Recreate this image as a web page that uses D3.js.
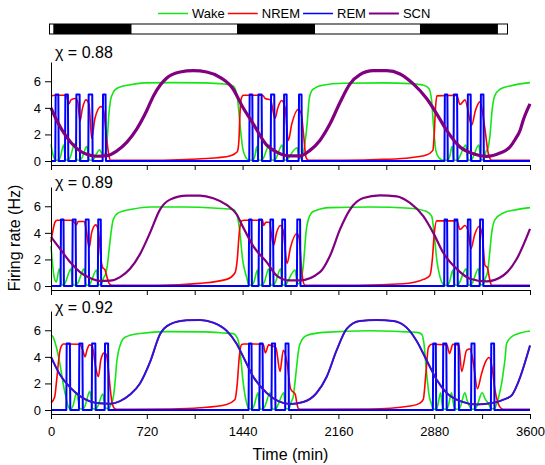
<!DOCTYPE html>
<html>
<head>
<meta charset="utf-8">
<script src="https://cdn.jsdelivr.net/npm/d3@7"></script>
<style>
  body { margin: 0; background: #fff; }
  svg { display: block; font-family: "Liberation Sans", Arial, sans-serif; }
</style>
</head>
<body>
<svg id="chart" width="545" height="465"></svg>
<script>
// ---- data: firing rates (Hz) against time (min), one block per chi value ----
const seriesNames = ["Wake", "NREM", "REM", "SCN"];
const chiLabels = ["\u03C7 = 0.88", "\u03C7 = 0.89", "\u03C7 = 0.92"];
const timeTicks = [0, 360, 720, 1080, 1440, 1800, 2160, 2520, 2880, 3240, 3600];
const timeLabels = [0, 720, 1440, 2160, 2880, 3600];
const rateTicks = [0, 2, 4, 6];
// light (white) / dark (black) schedule shown above the panels
const lightDark = [
  ["light", 0, 30], ["dark", 30, 646], ["light", 646, 1474], ["dark", 1474, 2087],
  ["light", 2087, 2912], ["dark", 2912, 3525], ["light", 3525, 3600]
];

// chi = 0.88
const wakeA = [[0,1.25],[12,0.6],[25,0.2],[35,0.06],[58,0.05],[70,0.3],[95,1.2],[102,0.7],[110,0.1],[130,0.05],[145,0.3],[178,1.3],[186,0.7],[193,0.1],[218,0.05],[235,0.3],[270,1.1],[278,0.6],[285,0.1],[313,0.05],[330,0.3],[365,0.85],[380,0.6],[395,0.4],[413,0.8],[425,2.0],[435,3.5],[448,4.6],[465,5.1],[481,5.35],[530,5.6],[600,5.75],[700,5.88],[900,5.9],[1150,5.88],[1300,5.8],[1370,5.65],[1400,4.8],[1420,2.8],[1440,1.0],[1460,0.35],[1480,0.1],[1516,0.05],[1530,0.3],[1548,1.1],[1553,0.6],[1560,0.08],[1586,0.05],[1600,0.3],[1640,1.2],[1647,0.6],[1655,0.1],[1681,0.05],[1695,0.3],[1738,1.2],[1745,0.6],[1752,0.1],[1774,0.05],[1790,0.3],[1850,1.0],[1858,0.6],[1865,0.2],[1886,0.3],[1900,0.8],[1912,1.6],[1925,2.8],[1941,4.7],[1960,5.3],[1986,5.5],[2040,5.7],[2200,5.85],[2500,5.88],[2700,5.82],[2800,5.7],[2840,5.45],[2860,4.6],[2875,2.6],[2892,0.8],[2915,0.25],[2940,0.08],[2957,0.05],[2982,0.05],[2995,0.3],[3015,1.1],[3021,0.6],[3028,0.08],[3055,0.05],[3070,0.3],[3118,1.2],[3126,0.6],[3133,0.1],[3157,0.05],[3172,0.3],[3215,1.2],[3224,0.6],[3231,0.1],[3253,0.1],[3268,0.7],[3285,1.0],[3300,2.0],[3315,3.8],[3335,4.9],[3374,5.4],[3450,5.65],[3600,5.9]];
const nremA = [[0,4.9],[30,4.95],[100,4.95],[115,4.9],[135,4.3],[150,4.6],[185,4.7],[200,4.5],[218,3.0],[235,3.9],[263,4.6],[285,4.3],[306,1.7],[330,3.2],[376,4.1],[395,3.8],[415,2.0],[435,0.4],[450,0.05],[700,0.05],[900,0.08],[1100,0.15],[1250,0.25],[1350,0.4],[1400,0.7],[1412,1.5],[1420,3.5],[1430,4.7],[1445,4.95],[1590,4.95],[1610,4.7],[1650,4.6],[1683,3.2],[1705,4.0],[1733,4.55],[1760,4.0],[1783,1.55],[1810,2.8],[1858,3.9],[1880,3.6],[1900,1.8],[1916,0.3],[1935,0.05],[2200,0.05],[2500,0.12],[2700,0.25],[2820,0.45],[2870,0.8],[2880,2.0],[2890,4.0],[2900,4.9],[3049,4.95],[3074,4.25],[3111,4.6],[3162,2.7],[3190,3.8],[3224,4.45],[3260,2.5],[3286,0.6],[3312,0.05],[3600,0.05]];
const remA = [[0,0],[32,0],[35,5],[55,5],[58,0],[105,0],[108,5],[127,5],[130,0],[188,0],[191,5],[215,5],[218,0],[280,0],[283,5],[310,5],[313,0],[388,0],[391,5],[410,5],[413,0],[1490,0],[1493,5],[1513,5],[1516,0],[1556,0],[1559,5],[1583,5],[1586,0],[1651,0],[1654,5],[1678,5],[1681,0],[1749,0],[1752,5],[1771,5],[1774,0],[1861,0],[1864,5],[1883,5],[1886,0],[2957,0],[2960,5],[2979,5],[2982,0],[3025,0],[3028,5],[3052,5],[3055,0],[3130,0],[3133,5],[3154,5],[3157,0],[3228,0],[3231,5],[3250,5],[3253,0],[3600,0]];
const scnA = [[0,4.0],[43,3.05],[118,1.8],[193,0.95],[268,0.5],[343,0.36],[418,0.4],[493,0.75],[569,1.4],[644,2.4],[720,3.8],[770,4.9],[820,5.7],[870,6.25],[970,6.7],[1070,6.8],[1170,6.7],[1270,6.3],[1370,5.4],[1433,4.2],[1520,2.8],[1621,1.2],[1700,0.65],[1796,0.38],[1871,0.38],[1946,0.8],[2021,1.55],[2097,2.8],[2172,4.4],[2247,5.8],[2322,6.5],[2422,6.8],[2523,6.8],[2623,6.55],[2723,5.8],[2823,4.7],[2899,3.55],[2974,2.3],[3074,1.05],[3174,0.55],[3274,0.35],[3374,0.6],[3449,1.05],[3487,1.6],[3525,2.3],[3550,3.1],[3600,4.3]];

// chi = 0.89
const wakeB = [[0,3.0],[12,1.6],[25,0.6],[40,0.3],[62,1.3],[70,0.9],[78,0.12],[97,0.05],[110,0.3],[150,1.3],[157,0.7],[165,0.1],[188,0.05],[205,0.3],[248,1.3],[255,0.7],[263,0.1],[286,0.05],[300,0.3],[342,1.2],[349,0.7],[357,0.1],[377,0.1],[395,0.6],[410,0.9],[423,1.5],[433,2.4],[443,3.3],[455,4.3],[468,5.0],[506,5.5],[619,5.8],[744,5.95],[1000,5.95],[1250,5.85],[1370,5.75],[1400,5.25],[1420,4.0],[1440,2.0],[1470,0.67],[1486,0.1],[1510,0.05],[1525,0.3],[1552,1.2],[1557,0.6],[1565,0.1],[1588,0.05],[1603,0.3],[1637,1.3],[1643,0.7],[1651,0.1],[1672,0.05],[1687,0.3],[1726,1.3],[1732,0.7],[1740,0.1],[1762,0.05],[1777,0.3],[1835,1.2],[1843,0.7],[1852,0.15],[1875,0.3],[1888,0.9],[1896,1.5],[1906,2.7],[1916,4.0],[1934,5.0],[1971,5.6],[2097,5.9],[2400,5.95],[2700,5.85],[2823,5.6],[2861,5.25],[2879,4.0],[2899,2.0],[2924,0.67],[2945,0.15],[2955,0.05],[2980,0.05],[2995,0.3],[3020,1.2],[3026,0.6],[3034,0.1],[3057,0.05],[3072,0.3],[3120,1.3],[3127,0.7],[3135,0.1],[3155,0.05],[3170,0.3],[3212,1.3],[3219,0.7],[3227,0.1],[3249,0.1],[3265,0.6],[3280,1.0],[3287,1.5],[3300,2.8],[3312,4.0],[3337,5.0],[3399,5.5],[3500,5.75],[3600,5.9]];
const nremB = [[0,3.3],[15,4.2],[30,4.8],[45,4.95],[150,4.95],[175,4.8],[190,4.6],[205,4.85],[250,4.85],[265,4.2],[287,2.9],[305,4.0],[336,4.6],[355,4.2],[380,1.7],[390,1.35],[405,1.25],[420,0.7],[440,0.15],[460,0.05],[800,0.05],[1120,0.2],[1320,0.5],[1383,1.0],[1400,2.0],[1415,4.0],[1433,4.9],[1450,4.95],[1590,4.95],[1598,4.55],[1615,4.8],[1640,4.8],[1673,3.06],[1695,4.0],[1724,4.55],[1745,4.2],[1774,1.7],[1800,2.9],[1849,3.95],[1865,3.6],[1886,0.95],[1904,0.1],[1920,0.05],[2300,0.06],[2648,0.17],[2800,0.5],[2848,0.8],[2866,2.0],[2881,4.0],[2899,4.9],[3050,4.9],[3074,4.25],[3111,4.55],[3135,4.1],[3156,2.8],[3185,3.9],[3219,4.5],[3240,3.9],[3262,1.55],[3279,1.4],[3295,0.6],[3312,0.05],[3600,0.05]];
const remB = [[0,0],[72,0],[75,5],[94,5],[97,0],[160,0],[163,5],[185,5],[188,0],[258,0],[261,5],[283,5],[286,0],[352,0],[355,5],[374,5],[377,0],[1486,0],[1489,5],[1507,5],[1510,0],[1560,0],[1563,5],[1585,5],[1588,0],[1646,0],[1649,5],[1669,5],[1672,0],[1735,0],[1738,5],[1759,5],[1762,0],[1848,0],[1851,5],[1872,5],[1875,0],[2955,0],[2958,5],[2977,5],[2980,0],[3030,0],[3033,5],[3054,5],[3057,0],[3130,0],[3133,5],[3152,5],[3155,0],[3222,0],[3225,5],[3246,5],[3249,0],[3600,0]];
const scnB = [[0,3.7],[68,2.8],[143,1.8],[218,1.05],[293,0.6],[368,0.38],[443,0.4],[519,0.67],[594,1.3],[669,2.4],[744,4.0],[819,5.75],[894,6.5],[1020,6.8],[1120,6.8],[1220,6.6],[1320,6.1],[1395,5.4],[1445,4.4],[1520,3.0],[1621,1.8],[1700,0.75],[1796,0.42],[1871,0.42],[2021,1.04],[2097,2.28],[2172,4.26],[2247,5.75],[2347,6.62],[2472,6.82],[2598,6.75],[2698,6.25],[2798,5.26],[2873,4.0],[2948,2.5],[3049,1.29],[3149,0.55],[3274,0.35],[3399,0.79],[3500,2.03],[3600,4.3]];

// chi = 0.92
const wakeC = [[0,5.65],[15,5.5],[30,5.1],[55,4.1],[80,2.7],[95,1.8],[105,1.3],[115,0.9],[125,0.4],[140,0.12],[150,0.08],[165,0.3],[192,1.3],[205,0.7],[215,0.12],[239,0.05],[255,0.3],[292,1.4],[303,0.7],[312,0.12],[336,0.05],[352,0.3],[390,1.2],[400,0.6],[410,0.15],[432,0.1],[450,0.4],[465,0.8],[476,1.53],[485,2.5],[493,3.5],[505,4.3],[519,4.85],[556,5.47],[669,5.76],[869,5.9],[1150,5.88],[1300,5.8],[1370,5.75],[1395,5.5],[1408,5.2],[1425,4.0],[1445,2.0],[1470,0.54],[1485,0.12],[1510,0.05],[1525,0.3],[1556,1.3],[1562,0.7],[1570,0.1],[1593,0.05],[1608,0.3],[1647,1.3],[1653,0.7],[1661,0.1],[1687,0.05],[1702,0.3],[1750,1.3],[1756,0.7],[1764,0.12],[1788,0.1],[1805,0.6],[1821,1.03],[1833,2.0],[1846,3.25],[1858,4.3],[1871,4.97],[1921,5.6],[2047,5.84],[2397,5.96],[2748,5.84],[2786,5.7],[2803,5.0],[2823,2.76],[2843,1.03],[2861,0.42],[2872,0.1],[2895,0.05],[2908,0.4],[2928,1.3],[2938,0.6],[2947,0.1],[2974,0.05],[2988,0.4],[3010,1.3],[3022,0.6],[3034,0.1],[3066,0.05],[3082,0.4],[3110,1.3],[3128,0.7],[3145,0.3],[3158,0.08],[3186,0.05],[3205,0.4],[3240,1.3],[3265,0.8],[3290,0.45],[3306,0.1],[3333,0.1],[3350,0.5],[3370,1.2],[3390,2.2],[3400,2.9],[3412,3.8],[3424,5.0],[3474,5.6],[3600,5.95]];
const nremC = [[0,0.55],[20,0.8],[30,1.1],[40,2.0],[48,2.8],[58,3.8],[68,4.5],[80,4.85],[93,4.97],[215,4.95],[239,4.5],[256,4.0],[270,4.5],[290,4.9],[310,4.8],[336,3.2],[356,2.5],[375,3.8],[400,4.3],[415,4.2],[432,3.0],[445,1.6],[460,0.5],[480,0.1],[500,0.05],[900,0.08],[1120,0.17],[1320,0.42],[1383,0.79],[1400,2.0],[1415,4.0],[1433,4.93],[1450,4.97],[1595,4.95],[1611,4.3],[1636,4.9],[1690,4.7],[1721,2.9],[1746,4.5],[1775,3.5],[1800,1.6],[1820,1.35],[1835,1.2],[1848,0.5],[1860,0.1],[1880,0.05],[2400,0.07],[2700,0.3],[2770,0.5],[2798,0.8],[2818,2.8],[2836,4.7],[2861,4.95],[2975,4.9],[2995,4.25],[3020,4.95],[3066,4.85],[3086,2.9],[3124,4.5],[3149,4.6],[3175,3.5],[3205,1.6],[3235,2.7],[3265,3.6],[3293,3.95],[3315,3.2],[3337,1.5],[3360,0.5],[3380,0.15],[3400,0.05],[3600,0.05]];
const remC = [[0,0],[115,0],[118,5],[142,5],[145,0],[210,0],[213,5],[236,5],[239,0],[306,0],[309,5],[333,5],[336,0],[403,0],[406,5],[429,5],[432,0],[1485,0],[1488,5],[1507,5],[1510,0],[1566,0],[1569,5],[1590,5],[1593,0],[1657,0],[1660,5],[1684,5],[1687,0],[1760,0],[1763,5],[1785,5],[1788,0],[2870,0],[2873,5],[2892,5],[2895,0],[2945,0],[2948,5],[2971,5],[2974,0],[3034,0],[3037,5],[3063,5],[3066,0],[3157,0],[3160,5],[3183,5],[3186,0],[3306,0],[3309,5],[3330,5],[3333,0],[3600,0]];
const scnC = [[0,4.0],[68,2.65],[143,1.7],[218,1.05],[293,0.65],[368,0.5],[443,0.47],[519,0.67],[594,1.16],[669,2.0],[744,3.6],[819,5.7],[894,6.45],[1020,6.75],[1120,6.77],[1220,6.57],[1320,5.96],[1395,4.98],[1445,4.0],[1520,2.5],[1621,1.28],[1708,0.67],[1796,0.45],[1896,0.6],[1996,1.28],[2072,2.5],[2147,4.5],[2222,6.1],[2322,6.7],[2447,6.77],[2573,6.7],[2673,6.2],[2748,5.2],[2823,3.74],[2899,2.27],[2974,1.28],[3074,0.67],[3199,0.42],[3324,0.54],[3400,0.78],[3462,1.1],[3512,2.1],[3600,4.85]];

// ---- drawing ----
const colors = { Wake: "#14e614", NREM: "#ff0000", REM: "#0000ff", SCN: "#800080" };
const svg = d3.select("#chart");
const x = d3.scaleLinear().domain([0, 3600]).range([51, 530]);

const panels = [
  { top: 62, bottom: 165, labelY: 58, data: [wakeA, nremA, remA, scnA], scnWidth: 3.2, scnOver: null },
  { top: 187, bottom: 290, labelY: 188, data: [wakeB, nremB, remB, scnB], scnWidth: 2.2, scnOver: null },
  { top: 311, bottom: 414, labelY: 313, data: [wakeC, nremC, remC, scnC], scnWidth: 2.0, scnOver: "#2418e8" }
];

panels.forEach((p, i) => {
  const y = d3.scaleLinear().domain([-0.3, 7.45]).range([p.bottom, p.top]);
  const g = svg.append("g");

  const smooth = d3.line().x(d => x(d[0])).y(d => y(d[1])).curve(d3.curveMonotoneX);
  const sharp = d3.line().x(d => x(d[0])).y(d => y(d[1]));

  // wake, NREM, REM, then SCN on top
  g.append("path").attr("d", smooth(p.data[0])).attr("fill", "none")
    .attr("stroke", colors.Wake).attr("stroke-width", 1.6);
  g.append("path").attr("d", smooth(p.data[1])).attr("fill", "none")
    .attr("stroke", colors.NREM).attr("stroke-width", 1.6);
  g.append("path").attr("d", sharp(p.data[2])).attr("fill", "none")
    .attr("stroke", colors.REM).attr("stroke-width", 2).attr("stroke-linejoin", "round");
  g.append("path").attr("d", smooth(p.data[3])).attr("fill", "none")
    .attr("stroke", colors.SCN).attr("stroke-width", p.scnWidth);
  if (p.scnOver) {
    g.append("path").attr("d", smooth(p.data[3])).attr("fill", "none")
      .attr("stroke", p.scnOver).attr("stroke-width", 1.6);
  }

  // axes
  const yAxis = d3.axisLeft(y).tickValues(rateTicks).tickSize(6).tickSizeOuter(0).tickPadding(4);
  const ya = g.append("g").attr("transform", `translate(${x(0)},0)`).call(yAxis);
  ya.selectAll("text").attr("font-size", 13).attr("fill", "#000").attr("font-family", null);

  const xAxis = d3.axisBottom(x).tickValues(timeTicks).tickSize(5).tickSizeOuter(0).tickPadding(8)
    .tickFormat(d => (i === panels.length - 1 && timeLabels.includes(d)) ? d : "");
  const xa = g.append("g").attr("transform", `translate(0,${p.bottom})`).call(xAxis);
  xa.selectAll("text").attr("font-size", 13).attr("fill", "#000").attr("font-family", null);

  [ya, xa].forEach(a => {
    a.select(".domain").attr("stroke", "#000");
    a.selectAll(".tick line").attr("stroke", "#000");
  });

  g.append("text").attr("x", 55).attr("y", p.labelY).attr("font-size", 16)
    .text(chiLabels[i]);
});

// axis titles
svg.append("text").attr("x", x(1800)).attr("y", 460).attr("text-anchor", "middle")
  .attr("font-size", 16).text("Time (min)");
svg.append("text").attr("transform", "translate(20,238) rotate(-90)")
  .attr("text-anchor", "middle").attr("font-size", 16).text("Firing rate (Hz)");

// light/dark bar
const xb = d3.scaleLinear().domain([0, 3600]).range([49.5, 507.5]);
const bar = svg.append("g");
bar.selectAll("rect.seg").data(lightDark).join("rect").attr("class", "seg")
  .attr("x", d => xb(d[1])).attr("width", d => xb(d[2]) - xb(d[1]))
  .attr("y", 24).attr("height", 10)
  .attr("fill", d => d[0] === "dark" ? "#000" : "#fff");
bar.append("rect").attr("x", xb(0)).attr("y", 24).attr("width", xb(3600) - xb(0)).attr("height", 10)
  .attr("fill", "none").attr("stroke", "#000").attr("stroke-width", 1);

// legend
const legend = svg.append("g");
let lx = 158;
seriesNames.forEach(name => {
  legend.append("line").attr("x1", lx).attr("x2", lx + 30).attr("y1", 13.5).attr("y2", 13.5)
    .attr("stroke", colors[name]).attr("stroke-width", name === "SCN" ? 2 : 1.5);
  const t = legend.append("text").attr("x", lx + 34).attr("y", 18).attr("font-size", 13).text(name);
  lx += 34 + t.node().getComputedTextLength() + 3;
});
</script>
</body>
</html>
